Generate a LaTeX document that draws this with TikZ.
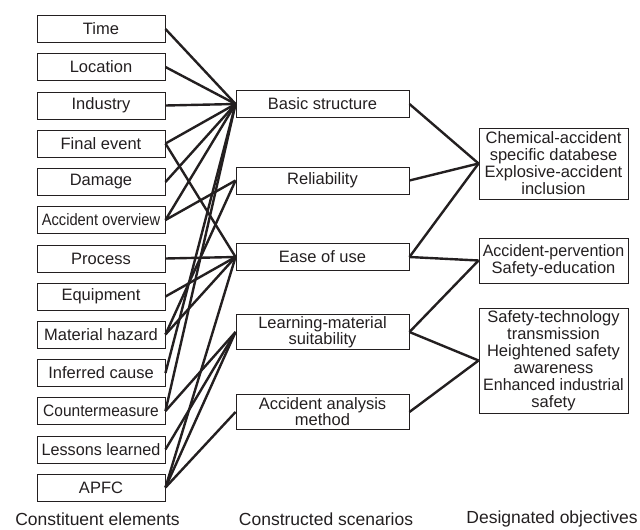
\documentclass[tikz,border=0pt]{standalone}
\usepackage{fontspec}
\setmainfont{Liberation Sans}
\definecolor{ink}{HTML}{231F20}
\begin{document}
\begin{tikzpicture}[x=1pt,y=-1pt,
  box/.style={draw=ink, line width=0.9pt, inner sep=0pt, text=ink, align=center,
    font=\fontsize{16.5}{17}\selectfont},
  elem/.style={box, minimum width=128pt, minimum height=27pt},
  scen/.style={box, minimum width=173pt, minimum height=27pt},
  scentwo/.style={box, minimum width=173pt, minimum height=35pt, font=\fontsize{16.5}{16}\selectfont},
  goal/.style={box, minimum width=149pt},
  link/.style={draw=ink, line width=2.4pt},
  footlabel/.style={text=ink, font=\fontsize{17.5}{20}\selectfont}]
\useasboundingbox (0,0) rectangle (640,530);
% constituent elements
\node[elem] (time) at (101,29) {Time};
\node[elem] (location) at (101,67) {Location};
\node[elem] (industry) at (101,105.5) {Industry};
\node[elem] (final) at (101,143.5) {Final event};
\node[elem] (damage) at (101,182) {Damage};
\node[elem] (overview) at (101,220) {\scalebox{0.89}[1]{Accident overview}};
\node[elem] (process) at (101,258.5) {Process};
\node[elem] (equipment) at (101,296.5) {Equipment};
\node[elem] (material) at (101,334.5) {Material hazard};
\node[elem] (inferred) at (101,373) {Inferred cause};
\node[elem] (counter) at (101,411) {\scalebox{0.94}[1]{Countermeasure}};
\node[elem] (lessons) at (101,449.5) {\scalebox{0.98}[1]{Lessons learned}};
\node[elem] (apfc) at (101,487.5) {APFC};
% constructed scenarios
\node[scen] (basic) at (322.5,104) {Basic structure};
\node[scen] (reliab) at (322.5,180.5) {Reliability};
\node[scen] (ease) at (322.5,257) {Ease of use};
\node[scentwo] (learning) at (322.5,332) {Learning-material\\suitability};
\node[scentwo] (analysis) at (322.5,412) {Accident analysis\\method};
% designated objectives
\node[goal, minimum height=71pt] (chem) at (553.5,163.5) {Chemical-accident\\specific databese\\Explosive-accident\\inclusion};
\node[goal, minimum height=45pt] (prev) at (553.5,260.5) {\scalebox{0.97}[1]{Accident-pervention}\\Safety-education};
\node[goal, minimum height=105pt] (safety) at (553.5,360.5) {Safety-technology\\transmission\\Heightened safety\\awareness\\\scalebox{0.97}[1]{Enhanced industrial}\\safety};
% footer labels
\node[footlabel] (l1) at (97.5,519) {Constituent elements};
\node[footlabel] (l2) at (326,519) {Constructed scenarios};
\node[footlabel] (l3) at (552,519) {Designated objectives};
% left connectors
\draw[link] (time.east) -- (basic.west);
\draw[link] (location.east) -- (basic.west);
\draw[link] (industry.east) -- (basic.west);
\draw[link] (final.east) -- (basic.west);
\draw[link] (final.east) -- (ease.west);
\draw[link] (damage.east) -- (basic.west);
\draw[link] (overview.east) -- (basic.west);
\draw[link] (overview.east) -- (reliab.west);
\draw[link] (process.east) -- (ease.west);
\draw[link] (equipment.east) -- (ease.west);
\draw[link] (material.east) -- (reliab.west);
\draw[link] (material.east) -- (ease.west);
\draw[link] (inferred.east) -- (basic.west);
\draw[link] (counter.east) -- (basic.west);
\draw[link] (counter.east) -- (learning.west);
\draw[link] (lessons.east) -- (learning.west);
\draw[link] (apfc.east) -- (ease.west);
\draw[link] (apfc.east) -- (learning.west);
\draw[link] (apfc.east) -- (analysis.west);
% right connectors
\draw[link] (basic.east) -- (chem.west);
\draw[link] (reliab.east) -- (chem.west);
\draw[link] (ease.east) -- (chem.west);
\draw[link] (ease.east) -- (prev.west);
\draw[link] (learning.east) -- (prev.west);
\draw[link] (learning.east) -- (safety.west);
\draw[link] (analysis.east) -- (safety.west);
\end{tikzpicture}
\end{document}
